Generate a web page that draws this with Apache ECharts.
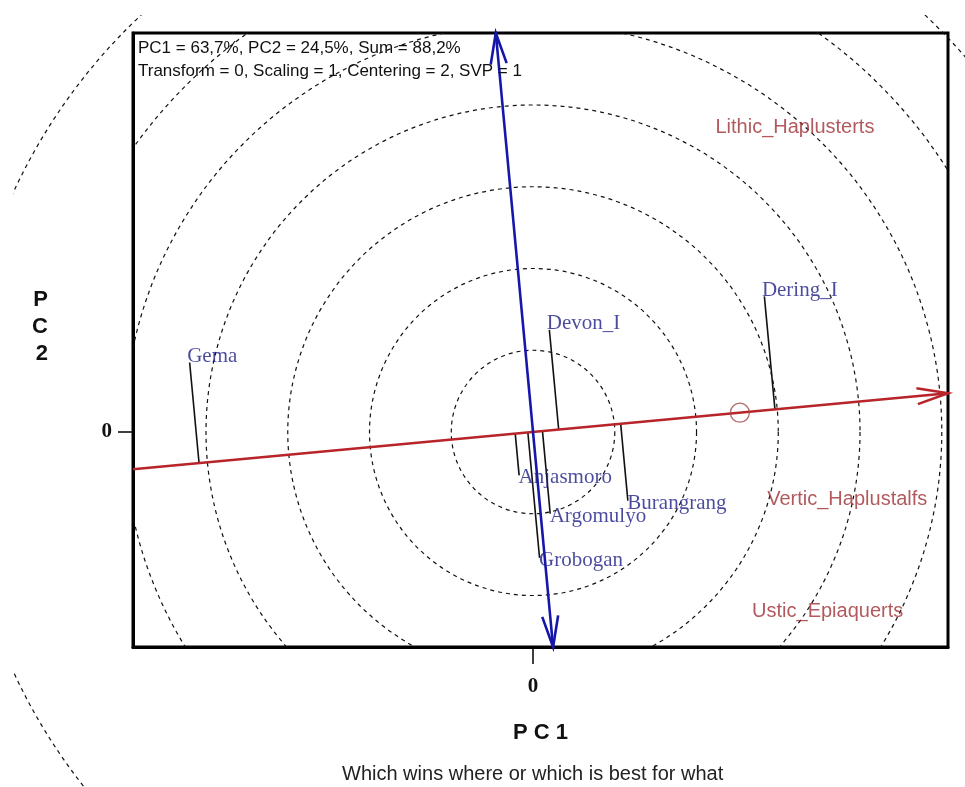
<!DOCTYPE html>
<html>
<head>
<meta charset="utf-8">
<script src="https://cdn.jsdelivr.net/npm/echarts@6/dist/echarts.min.js"></script>
<style>
  html, body { margin: 0; padding: 0; background: #fff; }
</style>
</head>
<body>
<div id="biplot" style="width: 965px;height: 787px;"></div>
<script>
  // genotypes (PC1, PC2 scores)
  const genotypes = ['Gema', 'Devon_I', 'Dering_I', 'Anjasmoro', 'Argomulyo', 'Burangrang', 'Grobogan']
  const genoPC1 = [-4.20, 0.20, 2.83, -0.17, 0.21, 1.16, 0.08]
  const genoPC2 = [0.85, 1.25, 1.66, -0.53, -1.00, -0.84, -1.54]
  // environments (label positions)
  const environments = ['Lithic_Haplusterts', 'Vertic_Haplustalfs', 'Ustic_Epiaquerts']
  const envPC1 = [3.21, 3.85, 3.61]
  const envPC2 = [3.72, -0.83, -2.20]
  // average environment coordinate
  const aecPoint = [2.53, 0.236]
  // concentric circles
  const circleRadii = [1, 2, 3, 4, 5, 6]
  const outerRadii = [7]
  // axis limits and ticks
  const pc1Range = [-4.893, 5.076]
  const pc2Range = [-2.630, 4.881]
  const tickValues = [0]

  // ATC direction from the average environment
  const len = Math.hypot(aecPoint[0], aecPoint[1])
  const u = [aecPoint[0] / len, aecPoint[1] / len]
  const v = [-u[1], u[0]]
  const abscissa = [pc1Range[0] / u[0], pc1Range[1] / u[0]].map(t => [t * u[0], t * u[1]])
  const ordinate = [pc2Range[1] / v[1], pc2Range[0] / v[1]].map(t => [t * v[0], t * v[1]])
  const atcLines = [
    [abscissa[0][0], abscissa[0][1], abscissa[1][0], abscissa[1][1]],
    [ordinate[0][0], ordinate[0][1], ordinate[1][0], ordinate[1][1]]
  ]
  const atcColors = ['#b8242a', '#1616aa']
  const atcHeads = [[false, true], [true, true]]

  const serif = 'Liberation Serif'
  const sans = 'Liberation Sans'

  let charts = echarts.init(document.getElementById('biplot'))

  function circleItem(params, api) {
    const c = api.coord([0, 0])
    const r = api.size([api.value(0), 0])[0]
    return {
      type: 'circle',
      shape: { cx: c[0], cy: c[1], r: r },
      style: { fill: 'none', stroke: '#111', lineWidth: 1.2, lineDash: [4, 4] }
    }
  }

  function arrowHead(tip, from, color) {
    const dx = tip[0] - from[0], dy = tip[1] - from[1]
    const l = Math.hypot(dx, dy)
    const ux = dx / l, uy = dy / l
    const hl = 31, hw = 8
    return {
      type: 'polyline',
      shape: {
        points: [
          [tip[0] - ux * hl - uy * hw, tip[1] - uy * hl + ux * hw],
          tip,
          [tip[0] - ux * hl + uy * hw, tip[1] - uy * hl - ux * hw]
        ]
      },
      style: { stroke: color, lineWidth: 2.6, fill: 'none' }
    }
  }

  let option = {
    animation: false,
    title: [
      {
        text: 'PC1 = 63,7%, PC2 = 24,5%, Sum = 88,2%\nTransform = 0, Scaling = 1, Centering = 2, SVP = 1',
        left: 133,
        top: 32,
        textStyle: { fontFamily: sans, fontSize: 17, fontWeight: 'normal', color: '#111', lineHeight: 23 }
      },
      {
        text: 'Which wins where or which is best for what',
        left: 337,
        top: 759,
        textStyle: { fontFamily: sans, fontSize: 20, fontWeight: 'normal', color: '#222' }
      }
    ],
    grid: {
      left: 133,
      top: 33,
      width: 815,
      height: 614,
      show: true,
      borderColor: '#000',
      borderWidth: 3
    },
    xAxis: {
      type: 'value',
      min: pc1Range[0],
      max: pc1Range[1],
      name: 'P C 1',
      nameLocation: 'middle',
      nameGap: 75,
      nameTextStyle: { fontFamily: sans, fontSize: 22, fontWeight: 'bold', color: '#111' },
      axisLine: { show: true, onZero: false, lineStyle: { color: '#000', width: 3 } },
      axisTick: { show: true, customValues: tickValues, length: 17, lineStyle: { color: '#000', width: 1.5 } },
      axisLabel: {
        customValues: tickValues,
        margin: 29,
        fontFamily: serif, fontSize: 21, fontWeight: 'bold', color: '#111'
      },
      splitLine: { show: false }
    },
    yAxis: {
      type: 'value',
      min: pc2Range[0],
      max: pc2Range[1],
      name: 'P\nC\n2\n ',
      nameLocation: 'middle',
      nameRotate: 0,
      nameGap: 85,
      nameTextStyle: { fontFamily: sans, fontSize: 22, fontWeight: 'bold', color: '#111', lineHeight: 27 },
      axisLine: { show: true, onZero: false, lineStyle: { color: '#000', width: 3 } },
      axisTick: { show: true, customValues: tickValues, length: 15, lineStyle: { color: '#000', width: 1.5 } },
      axisLabel: {
        customValues: tickValues,
        margin: 21,
        fontFamily: serif, fontSize: 21, fontWeight: 'bold', color: '#111'
      },
      splitLine: { show: false }
    },
    series: [
      {
        // circles inside the plot box
        type: 'custom',
        clip: true,
        silent: true,
        z: 1,
        data: circleRadii.map(r => [r]),
        renderItem: circleItem
      },
      {
        // outer circle, drawn beyond the box
        type: 'custom',
        clip: false,
        silent: true,
        z: 1,
        data: outerRadii.map(r => [r]),
        renderItem(params, api) {
          const el = circleItem(params, api)
          el.clipPath = { type: 'rect', shape: { x: 13, y: 15, width: 952, height: 772 } }
          return el
        }
      },
      {
        // projections of genotypes onto the ATC abscissa
        type: 'custom',
        silent: true,
        z: 3,
        data: genoPC1.map((x, i) => [x, genoPC2[i]]),
        renderItem(params, api) {
          const x = api.value(0), y = api.value(1)
          const t = x * u[0] + y * u[1]
          const a = api.coord([x, y])
          const b = api.coord([t * u[0], t * u[1]])
          return {
            type: 'line',
            shape: { x1: a[0], y1: a[1], x2: b[0], y2: b[1] },
            style: { stroke: '#111', lineWidth: 1.6 }
          }
        }
      },
      {
        // ATC abscissa (red) and ordinate (blue)
        type: 'custom',
        silent: true,
        clip: false,
        z: 4,
        data: atcLines,
        renderItem(params, api) {
          const a = api.coord([api.value(0), api.value(1)])
          const b = api.coord([api.value(2), api.value(3)])
          const color = atcColors[params.dataIndex]
          const heads = atcHeads[params.dataIndex]
          const children = [{
            type: 'line',
            shape: { x1: a[0], y1: a[1], x2: b[0], y2: b[1] },
            style: { stroke: color, lineWidth: 2.6 }
          }]
          if (heads[0]) children.push(arrowHead(a, b, color))
          if (heads[1]) children.push(arrowHead(b, a, color))
          return { type: 'group', children: children }
        }
      },
      {
        // average environment marker
        type: 'scatter',
        symbol: 'circle',
        symbolSize: 19,
        z: 5,
        itemStyle: { color: 'rgba(0,0,0,0)', borderColor: '#a04848', borderWidth: 1.3 },
        data: [aecPoint]
      },
      {
        type: 'scatter',
        symbolSize: 1,
        z: 6,
        itemStyle: { color: 'rgba(0,0,0,0)' },
        data: genotypes.map((g, i) => ({
          name: g,
          value: [genoPC1[i], genoPC2[i]],
          label: genoPC2[i] > 0
            ? { position: [-2, 5], verticalAlign: 'bottom' }
            : { position: [0, 3], verticalAlign: 'middle' }
        })),
        label: {
          show: true,
          formatter: '{b}',
          align: 'left',
          fontFamily: serif,
          fontSize: 21,
          color: '#1e1e86'
        }
      },
      {
        type: 'scatter',
        symbolSize: 1,
        z: 6,
        itemStyle: { color: 'rgba(0,0,0,0)' },
        data: environments.map((e, i) => ({ name: e, value: [envPC1[i], envPC2[i]] })),
        label: {
          show: true,
          formatter: '{b}',
          position: [0, 0],
          align: 'center',
          verticalAlign: 'middle',
          fontFamily: sans,
          fontSize: 20,
          color: '#9e3034'
        }
      }
    ]
  }
  charts.setOption(option)
  window.addEventListener('resize', () => {
    charts.resize()
  })
</script>
</body>
</html>
